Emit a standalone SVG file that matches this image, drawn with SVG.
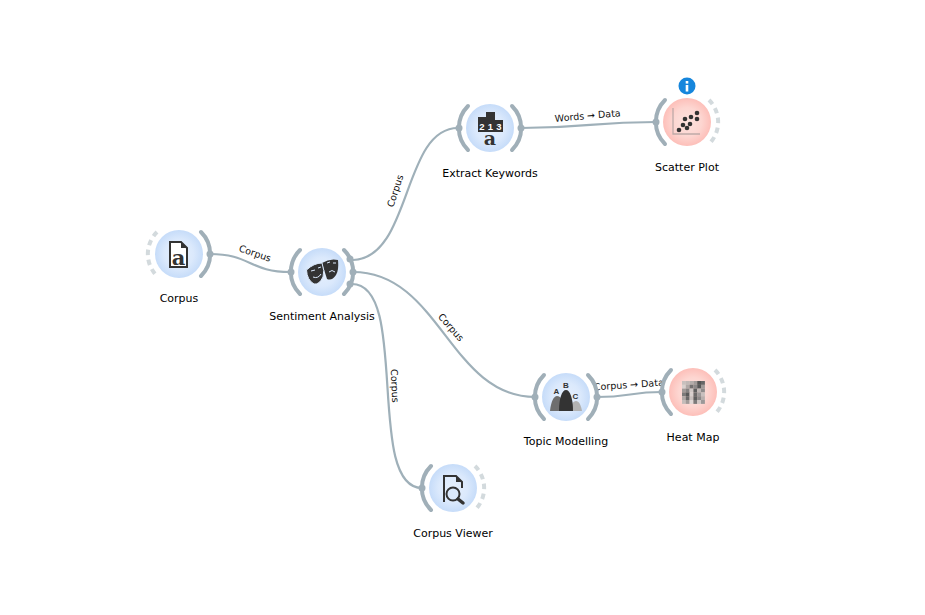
<svg xmlns="http://www.w3.org/2000/svg" width="925" height="615" viewBox="0 0 925 615">
<style>
text{font-family:"DejaVu Sans","Noto Sans",sans-serif;fill:#000}
.lab{font-size:11px;text-anchor:middle}
.cl{font-size:9.500px;text-anchor:middle;fill:#111}
.wire{fill:none;stroke:#9fb0b9;stroke-width:2.200}
.arc{fill:none;stroke:#a0afb8;stroke-width:4;stroke-linecap:round}
.dash{fill:none;stroke:#d3dadd;stroke-width:4;stroke-dasharray:5.500 4.500}
.dot{fill:#a0afb8}
.ink{fill:#333}
.doc{fill:#fff;stroke:#333;stroke-width:2}
.serif{font-family:"DejaVu Serif",serif;font-weight:bold;text-anchor:middle;fill:#333}
.tiny{font-family:"Liberation Sans",sans-serif;font-weight:bold;text-anchor:middle}
.h rect{width:3.900px;height:3.900px}
</style>
<defs>
<radialGradient id="b"><stop offset="0" stop-color="#e6f0fd"/><stop offset="0.6" stop-color="#dbe9fc"/><stop offset="1" stop-color="#c6dcf9"/></radialGradient>
<radialGradient id="r"><stop offset="0" stop-color="#fde3df"/><stop offset="0.6" stop-color="#fdd6d1"/><stop offset="1" stop-color="#fdbfb9"/></radialGradient>
</defs>
<rect width="925" height="615" fill="#fff"/>
<g id="connectors">
<path class="wire" d="M210 254C250 254 250 272 290 272"/>
<path class="wire" d="M353 260C412 258 402 128 458 128"/>
<path class="wire" d="M353 272C440 272 450 397 535 397"/>
<path class="wire" d="M352 284C410 284 365 488 422 488"/>
<path class="wire" d="M521 128C590 128 590 122 656 122"/>
<path class="wire" d="M597 397C630 397 630 392 662 392"/>
<text class="cl" transform="translate(254 256.500) rotate(19)">Corpus</text>
<text class="cl" transform="translate(398.300 192) rotate(-72)">Corpus</text>
<text class="cl" transform="translate(448.500 329.500) rotate(49)">Corpus</text>
<text class="cl" transform="translate(391.500 386) rotate(87)">Corpus</text>
<text class="cl" transform="translate(588 119) rotate(-5)">Words → Data</text>
<text class="cl" transform="translate(629 388) rotate(-4)">Corpus → Data</text>
</g>
<g id="corpus">
<circle cx="179" cy="254" r="24" fill="url(#b)"/>
<path class="dash" d="M157 232A31 31 0 0 0 157 276"/>
<path class="arc" d="M201 232A31 31 0 0 1 201 276"/>
<circle class="dot" cx="210" cy="254" r="3.500"/>
<path class="doc" d="M170 242H181L187 248V267H170Z"/>
<path class="ink" d="M181 242L187 248H181Z"/>
<text class="serif" x="178.500" y="265" style="font-size:21px">a</text>
<text class="lab" x="179" y="302">Corpus</text>
</g>
<g id="sentiment-analysis">
<circle cx="322" cy="272" r="24" fill="url(#b)"/>
<path class="arc" d="M300 250A31 31 0 0 0 300 294"/>
<path class="arc" d="M344 250A31 31 0 0 1 344 294"/>
<circle class="dot" cx="291" cy="272" r="3.500"/>
<circle class="dot" cx="350" cy="259" r="3.500"/>
<circle class="dot" cx="353" cy="272" r="3.500"/>
<circle class="dot" cx="350" cy="284" r="3.500"/>
<path class="ink" d="M322 263Q330 258 338 260Q339 270 336 275Q332 281 327 279Z"/>
<path class="ink" stroke="#dbe9fc" stroke-width="1" d="M306.500 270Q314 263 322 263Q325 271 323 277Q319 285 314 284Q307 280 306.500 270Z"/>
<path fill="none" stroke="#dbe9fc" stroke-width="1" d="M311 271l4-1M318 268l3-1M313 277q5 2 8-3M327 263l3-1M333 263l3 0M329 272q3-3 6 0"/>
<text class="lab" x="322" y="320">Sentiment Analysis</text>
</g>
<g id="extract-keywords">
<circle cx="490" cy="128" r="24" fill="url(#b)"/>
<path class="arc" d="M468 106A31 31 0 0 0 468 150"/>
<path class="arc" d="M512 106A31 31 0 0 1 512 150"/>
<circle class="dot" cx="459" cy="128" r="3.500"/>
<circle class="dot" cx="521" cy="128" r="3.500"/>
<rect class="ink" x="478" y="117" width="8" height="15"/>
<rect class="ink" x="486" y="112" width="9" height="20"/>
<rect class="ink" x="495" y="120" width="8" height="12"/>
<text class="tiny" x="482" y="130" style="font-size:9.500px;fill:#fff">2</text>
<text class="tiny" x="490.500" y="130" style="font-size:9.500px;fill:#fff">1</text>
<text class="tiny" x="499" y="130" style="font-size:9.500px;fill:#fff">3</text>
<text class="serif" x="490" y="145" style="font-size:19px">a</text>
<text class="lab" x="490" y="177">Extract Keywords</text>
</g>
<g id="scatter-plot">
<circle cx="687" cy="122" r="24" fill="url(#r)"/>
<path class="arc" d="M665 100A31 31 0 0 0 665 144"/>
<path class="dash" d="M709 100A31 31 0 0 1 709 144"/>
<circle class="dot" cx="656" cy="122" r="3.500"/>
<path fill="none" stroke="#bfaaa8" stroke-width="1.300" d="M673 108V134H700"/>
<g class="ink"><circle cx="679" cy="130" r="2.300"/><circle cx="683" cy="125" r="2.300"/><circle cx="690" cy="124" r="2.300"/><circle cx="685" cy="119" r="2.300"/><circle cx="691" cy="117" r="2.300"/><circle cx="697" cy="113" r="2.300"/><circle cx="697" cy="119" r="2.300"/><circle cx="687" cy="128" r="2.300"/></g>
<circle cx="687" cy="86" r="8.500" fill="#1686dc"/>
<rect x="685.700" y="81" width="2.600" height="2.600" fill="#fff"/>
<rect x="685.700" y="85" width="2.600" height="6.500" fill="#fff"/>
<text class="lab" x="687" y="171">Scatter Plot</text>
</g>
<g id="topic-modelling">
<circle cx="566" cy="397" r="24" fill="url(#b)"/>
<path class="arc" d="M544 375A31 31 0 0 0 544 419"/>
<path class="arc" d="M588 375A31 31 0 0 1 588 419"/>
<circle class="dot" cx="535" cy="397" r="3.500"/>
<circle class="dot" cx="597" cy="397" r="3.500"/>
<path fill="#b2b2b2" d="M570 411C571 405 573 401 576 401C579 401 581 405 582 411Z"/>
<path fill="#6e6e6e" d="M550 411C551 401 554 396 557 396C561 396 564 402 566 411Z"/>
<path class="ink" d="M559 411C559 398 562 390 566 390C570 390 573 398 573 411Z"/>
<text class="tiny" x="556.500" y="394" style="font-size:8px;fill:#333">A</text>
<text class="tiny" x="566" y="388" style="font-size:8px;fill:#333">B</text>
<text class="tiny" x="575.500" y="399" style="font-size:8px;fill:#333">C</text>
<text class="lab" x="566" y="445">Topic Modelling</text>
</g>
<g id="heat-map">
<circle cx="693" cy="392" r="24" fill="url(#r)"/>
<path class="arc" d="M671 370A31 31 0 0 0 671 414"/>
<path class="dash" d="M715 370A31 31 0 0 1 715 414"/>
<circle class="dot" cx="662" cy="392" r="3.500"/>
<g class="h">
<rect x="682" y="381" fill="#c8c0be"/><rect x="685.800" y="381" fill="#c0b8b6"/><rect x="689.600" y="381" fill="#b4acaa"/><rect x="693.400" y="381" fill="#a09a98"/><rect x="697.200" y="381" fill="#555"/><rect x="701" y="381" fill="#666"/>
<rect x="682" y="384.800" fill="#d8d0ce"/><rect x="685.800" y="384.800" fill="#b0a8a6"/><rect x="689.600" y="384.800" fill="#747070"/><rect x="693.400" y="384.800" fill="#8c8888"/><rect x="697.200" y="384.800" fill="#585858"/><rect x="701" y="384.800" fill="#a09a98"/>
<rect x="682" y="388.600" fill="#a09a98"/><rect x="685.800" y="388.600" fill="#858282"/><rect x="689.600" y="388.600" fill="#cfc7c5"/><rect x="693.400" y="388.600" fill="#5e5e5e"/><rect x="697.200" y="388.600" fill="#c0b8b6"/><rect x="701" y="388.600" fill="#8f8c8c"/>
<rect x="682" y="392.400" fill="#7c7a7a"/><rect x="685.800" y="392.400" fill="#5a5a5a"/><rect x="689.600" y="392.400" fill="#d8d0ce"/><rect x="693.400" y="392.400" fill="#6c6a6a"/><rect x="697.200" y="392.400" fill="#9c9898"/><rect x="701" y="392.400" fill="#c8c0be"/>
<rect x="682" y="396.200" fill="#b0a8a6"/><rect x="685.800" y="396.200" fill="#6a6868"/><rect x="689.600" y="396.200" fill="#c8c0be"/><rect x="693.400" y="396.200" fill="#5e5e5e"/><rect x="697.200" y="396.200" fill="#8c8888"/><rect x="701" y="396.200" fill="#b8b0ae"/>
<rect x="682" y="400" fill="#c4bcba"/><rect x="685.800" y="400" fill="#a09a98"/><rect x="689.600" y="400" fill="#e0d8d6"/><rect x="693.400" y="400" fill="#7c7a7a"/><rect x="697.200" y="400" fill="#d0c8c6"/><rect x="701" y="400" fill="#9c9898"/>
</g>
<text class="lab" x="693" y="441">Heat Map</text>
</g>
<g id="corpus-viewer">
<circle cx="453" cy="488" r="24" fill="url(#b)"/>
<path class="arc" d="M431 466A31 31 0 0 0 431 510"/>
<path class="dash" d="M475 466A31 31 0 0 1 475 510"/>
<circle class="dot" cx="422" cy="488" r="3.500"/>
<path fill="none" stroke="#333" stroke-width="2" d="M444 502V476H456L462 482V488"/>
<path class="ink" d="M456 476L462 482H456Z"/>
<circle cx="453" cy="494" r="6.500" fill="#dbe9fc" stroke="#333" stroke-width="2"/>
<path stroke="#333" stroke-width="3.500" stroke-linecap="round" d="M458 499L463 503"/>
<text class="lab" x="453" y="537">Corpus Viewer</text>
</g>
</svg>
